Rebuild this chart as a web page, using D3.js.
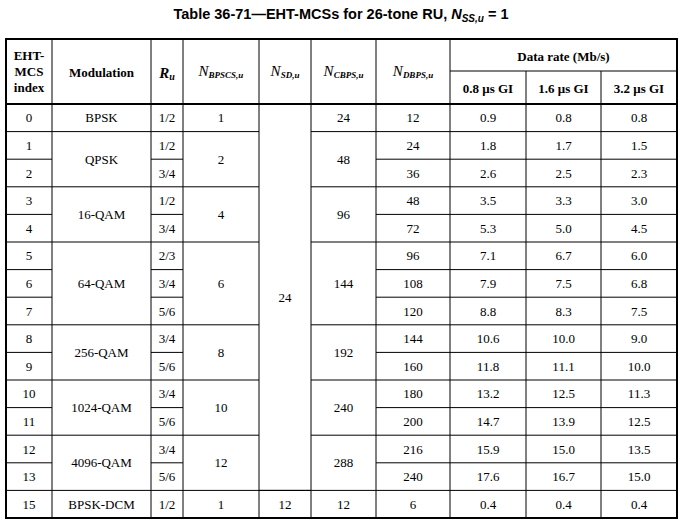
<!DOCTYPE html>
<html><head><meta charset="utf-8">
<script src="https://cdn.jsdelivr.net/npm/d3@7.9.0/dist/d3.min.js"></script>
<style>body{margin:0;background:#fff}svg{display:block}</style>
</head><body>
<svg id="t" width="683" height="525"></svg>
<script>
// Table data
const mcsIndex = ['0','1','2','3','4','5','6','7','8','9','10','11','12','13','15'];
const ru = ['1/2','1/2','3/4','1/2','3/4','2/3','3/4','5/6','3/4','5/6','3/4','5/6','3/4','5/6','1/2'];
const ndbps = ['12','24','36','48','72','96','108','120','144','160','180','200','216','240','6'];
const rate08 = ['0.9','1.8','2.6','3.5','5.3','7.1','7.9','8.8','10.6','11.8','13.2','14.7','15.9','17.6','0.4'];
const rate16 = ['0.8','1.7','2.5','3.3','5.0','6.7','7.5','8.3','10.0','11.1','12.5','13.9','15.0','16.7','0.4'];
const rate32 = ['0.8','1.5','2.3','3.0','4.5','6.0','6.8','7.5','9.0','10.0','11.3','12.5','13.5','15.0','0.4'];
// Merged groups: [startRow, rowCount]
const groupSpans = [[0,1],[1,2],[3,2],[5,3],[8,2],[10,2],[12,2],[14,1]];
const modulation = ['BPSK','QPSK','16-QAM','64-QAM','256-QAM','1024-QAM','4096-QAM','BPSK-DCM'];
const nbpscs = ['1','2','4','6','8','10','12','1'];
const ncbps = ['24','48','96','144','192','240','288','12'];
const nsdSpans = [[0,14],[14,1]];
const nsd = ['24','12'];

const svg = d3.select('#t');
const colEdges = [6,52,151,183,259,311,376,450,526,601,677];
const tableTop = 39, headMid = 71, bodyTop = 104, tableBottom = 518;
const y = d3.scaleLinear().domain([0, mcsIndex.length]).range([bodyTop, tableBottom]);
const cx = i => (colEdges[i] + colEdges[i+1]) / 2;
const serif = '"Liberation Serif", "Times New Roman", serif';

svg.append('text').attr('x', 341).attr('y', 19).attr('text-anchor', 'middle')
  .attr('font-family', '"Liberation Sans", Arial, sans-serif').attr('font-weight', 'bold').attr('font-size', 14.5)
  .html('Table 36-71—EHT-MCSs for 26-tone RU, <tspan font-style="italic">N</tspan><tspan font-style="italic" font-size="10" dy="3">SS,u</tspan><tspan dy="-3"> = 1</tspan>');

const line = (x1, y1, x2, y2, w) => svg.append('line').attr('x1', x1).attr('y1', y1).attr('x2', x2).attr('y2', y2)
  .attr('stroke', '#000').attr('stroke-width', w);
const text = (x, yy, s, opts = {}) => svg.append('text').attr('x', x).attr('y', yy)
  .attr('text-anchor', 'middle').attr('dominant-baseline', 'central')
  .attr('font-family', serif).attr('font-size', opts.size || 13)
  .attr('font-weight', opts.bold ? 'bold' : null).html(s);

// header
text(cx(0), 55, 'EHT-', {bold: true});
text(cx(0), 71, 'MCS', {bold: true});
text(cx(0), 87, 'index', {bold: true});
text(cx(1), 72, 'Modulation', {bold: true});
const sub = (a, b) => `<tspan font-style="italic">${a}</tspan><tspan font-style="italic" font-size="9" font-weight="bold" dy="4">${b}</tspan>`;
svg.append('text').attr('x', cx(2)).attr('y', 73).attr('text-anchor', 'middle').attr('dominant-baseline', 'central')
  .attr('font-family', serif).attr('font-size', 15).html('<tspan font-style="italic" font-weight="bold">R</tspan><tspan font-style="italic" font-size="10" font-weight="bold" dy="3">u</tspan>');
[[3,'N','BPSCS,u'],[4,'N','SD,u'],[5,'N','CBPS,u'],[6,'N','DBPS,u']].forEach(([c,a,b]) =>
  svg.append('text').attr('x', cx(c)).attr('y', 71).attr('text-anchor', 'middle').attr('dominant-baseline', 'central')
    .attr('font-family', serif).attr('font-size', 15).html(sub(a, b)));
text((colEdges[7] + colEdges[10]) / 2, 56, 'Data rate (Mb/s)', {bold: true});
['0.8 μs GI','1.6 μs GI','3.2 μs GI'].forEach((s, i) => text(cx(7 + i), 88, s, {bold: true}));

// body cells per row
const perRow = [mcsIndex, null, ru, null, null, null, ndbps, rate08, rate16, rate32];
perRow.forEach((arr, c) => {
  if (!arr) return;
  arr.forEach((v, r) => text(cx(c), (y(r) + y(r + 1)) / 2, v));
});
// merged cells
[[1, modulation], [3, nbpscs], [5, ncbps]].forEach(([c, arr]) =>
  groupSpans.forEach(([s, n], g) => text(cx(c), (y(s) + y(s + n)) / 2, arr[g])));
nsdSpans.forEach(([s, n], g) => text(cx(4), (y(s) + y(s + n)) / 2, nsd[g]));

// grid lines
const rowCols = [0, 2, 6, 7, 8, 9];
groupSpans.forEach(([s, n]) => {
  const allCols = d3.range(10).filter(c => c !== 4 || s === 14);
  allCols.forEach(c => line(colEdges[c], y(s), colEdges[c + 1], y(s), 1));
  for (let r = s + 1; r < s + n; r++)
    rowCols.forEach(c => line(colEdges[c], y(r), colEdges[c + 1], y(r), 1));
});
line(colEdges[4], y(14), colEdges[5], y(14), 1);
line(colEdges[7], headMid, colEdges[10], headMid, 1);
line(colEdges[0], bodyTop, colEdges[10], bodyTop, 2);
colEdges.slice(1, -1).forEach((x, i) => {
  const y0 = (i + 1 === 8 || i + 1 === 9) ? headMid : tableTop;
  line(x, y0, x, tableBottom, 1);
});
svg.append('rect').attr('x', colEdges[0]).attr('y', tableTop).attr('width', colEdges[10] - colEdges[0])
  .attr('height', tableBottom - tableTop).attr('fill', 'none').attr('stroke', '#000').attr('stroke-width', 2);
</script>
</body></html>
